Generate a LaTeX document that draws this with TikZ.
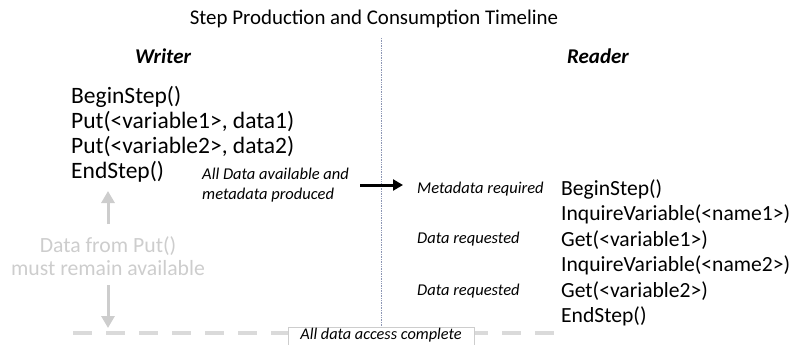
\documentclass[tikz,border=0pt]{standalone}
\usepackage{fontspec}
\setmainfont{Carlito}
\usetikzlibrary{arrows.meta}
\definecolor{lightg}{RGB}{205,205,205}
\definecolor{dashg}{RGB}{218,218,218}
\definecolor{divline}{RGB}{140,150,180}
\begin{document}
\begin{tikzpicture}[x=1pt,y=-1pt,
  code/.style={anchor=west,inner sep=0pt,font=\fontsize{23.5}{28}\selectfont},
  rcode/.style={anchor=west,inner sep=0pt,font=\fontsize{21.6}{26}\selectfont},
  note/.style={anchor=west,inner sep=0pt,font=\fontsize{16.5}{20}\selectfont\itshape},
  head/.style={inner sep=0pt,font=\fontsize{21}{25}\selectfont\bfseries\itshape},
  keeptext/.style={inner sep=0pt,align=center,text=lightg,font=\fontsize{21.7}{23.5}\selectfont},
  keeparrow/.style={draw=lightg,line width=3pt,-{Triangle[width=13pt,length=12pt]}},
  mainarrow/.style={draw=black,line width=3pt,-{Triangle[width=11pt,length=10pt]}}]
\useasboundingbox (0,0) rectangle (790,345);

\node (title) [inner sep=0pt,font=\fontsize{20.9}{25}\selectfont] at (374,19) {Step Production and Consumption Timeline};
\node (writer) [head] at (163,56) {Writer};
\node (reader) [head] at (598,56) {Reader};

% writer code
\node (w1) [code] at (71,97) {BeginStep()};
\node (w2) [code] at (71,122) {Put(<variable1>, data1)};
\node (w3) [code] at (71,147) {Put(<variable2>, data2)};
\node (w4) [code] at (71,172) {EndStep()};

\node (avail) [note,align=left] at (202,185) {All Data available and\\metadata produced};

% reader code
\node (r1) [rcode] at (561,189) {BeginStep()};
\node (r2) [rcode] at (561,214) {InquireVariable(<name1>)};
\node (r3) [rcode] at (561,240) {Get(<variable1>)};
\node (r4) [rcode] at (561,265) {InquireVariable(<name2>)};
\node (r5) [rcode] at (561,291) {Get(<variable2>)};
\node (r6) [rcode] at (561,316) {EndStep()};

\node (n1) [note] at (417,189) {Metadata required};
\node (n2) [note] at (417,239) {Data requested};
\node (n3) [note] at (417,291) {Data requested};

% dashed completion line
\coordinate (dl) at (73,333);
\coordinate (dr) at (562,333);
\draw[dashg,line width=4pt,dash pattern=on 19pt off 14pt] (dl) -- (dr);

% completion box
\node (box) [draw=lightg,fill=white,line width=0.6pt,anchor=north,minimum width=186pt,
  inner xsep=4pt,inner ysep=2pt,text height=10.5pt,text depth=20pt,
  font=\fontsize{16.3}{19}\selectfont\itshape] at (381,327) {All data access complete};

% divider
\coordinate (vtop) at (381,38);
\draw[divline,line width=0.7pt,densely dotted] (vtop) -- (vtop |- box.north);

% main arrow
\coordinate (a1) at (360,185);
\coordinate (a2) at (403,185);
\draw[mainarrow] (a1) -- (a2);

% keep-available note
\node (keep) [keeptext] at (108,256) {Data from Put()\\must remain available};
\coordinate (up1) at (108,224);
\coordinate (up2) at (108,191);
\coordinate (dn1) at (108,285);
\coordinate (dn2) at (108,328);
\draw[keeparrow] (up1) -- (up2);
\draw[keeparrow] (dn1) -- (dn2);
\end{tikzpicture}
\end{document}
